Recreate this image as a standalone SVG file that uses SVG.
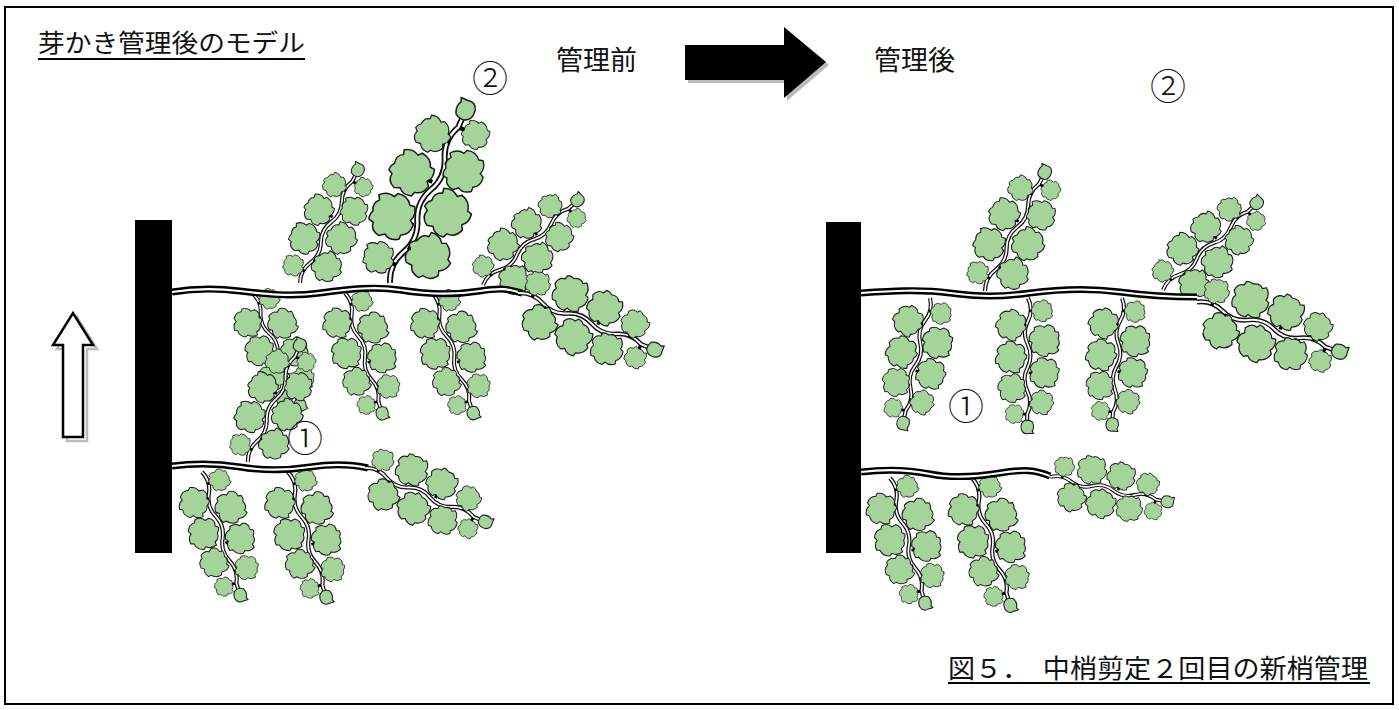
<svg xmlns="http://www.w3.org/2000/svg" xmlns:xlink="http://www.w3.org/1999/xlink" width="1399" height="710" viewBox="0 0 1399 710">
<style>
.txt{font-family:"Noto Sans CJK JP","Liberation Sans",sans-serif;fill:#111}
.num{font-family:"Noto Sans CJK JP","DejaVu Sans",sans-serif;fill:#111;font-weight:300}
.st{fill:none;stroke:#111;stroke-width:3.2}
.sti{fill:none;stroke:#fff;stroke-width:1.3}
.pet{stroke:#000;stroke-width:2.2;fill:none}
.lf{fill:#a4d49a;stroke:#1a1a1a;stroke-width:0.8;stroke-linejoin:round}
.cane{fill:none;stroke:#000;stroke-width:7}
.canei{fill:none;stroke:#fff;stroke-width:2.2}
.post{fill:#000}
.ul{stroke:#000;stroke-width:2}
</style>
<defs>
<path id="leaf" class="lf" d="M0,-10.5 Q4.5,-12 6.5,-8.5 L9,-9.5 Q12,-5.5 10,-1.5 L12,0 Q12,5.5 7.5,7.5 L7.5,10 Q3,12 0,9.5 L-2,11.5 Q-7.5,11 -8.5,6.5 L-11,6 Q-13,1 -10,-1.5 L-11.5,-4.5 Q-10,-9.5 -5.5,-9 L-4.5,-11.5 Q-2,-12 0,-10.5 Z"/>
<path id="bud" class="lf" d="M-4,-4 Q0,-6 3,-4 L5,-5 L5,-1 Q6,3 2,4.5 Q-3,5.5 -5,2 Q-6,-1 -4,-4 Z"/>
<g id="shoot">
<path class="st" d="M0,0 C6,-3 12,-3 18,0 S30,3 36,0 S48,-3 54,0 S66,3 72,0 S84,-3 90,0 L96,0"/>
<path class="sti" d="M0,0 C6,-3 12,-3 18,0 S30,3 36,0 S48,-3 54,0 S66,3 72,0 S84,-3 90,0 L96,0"/>
<path class="pet" d="M10,-1 v-4 M21,1 v4 M33,-1 v-4 M46,1 v4 M58,-1 v-4 M70,1 v4 M81,-1 v-4 M90,1 v4"/>
<use xlink:href="#leaf" transform="translate(10,-11) scale(.7) rotate(-20)"/>
<use xlink:href="#leaf" transform="translate(21,13) scale(.98) rotate(30)"/>
<use xlink:href="#leaf" transform="translate(33,-13) scale(1.02) rotate(-10)"/>
<use xlink:href="#leaf" transform="translate(46,13) scale(1.02) rotate(15)"/>
<use xlink:href="#leaf" transform="translate(58,-13) scale(.98) rotate(5)"/>
<use xlink:href="#leaf" transform="translate(70,12) scale(.92) rotate(-15)"/>
<use xlink:href="#leaf" transform="translate(81,-11) scale(.78) rotate(20)"/>
<use xlink:href="#leaf" transform="translate(90,10) scale(.62)"/>
<use xlink:href="#bud" transform="translate(100,0)"/>
</g>
</defs>

<rect x="5" y="7" width="1388" height="697" fill="#fff" stroke="#000" stroke-width="2"/>

<g id="labels">
<text class="txt" x="38" y="52" font-size="25" textLength="267" lengthAdjust="spacingAndGlyphs">芽かき管理後のモデル</text>
<line class="ul" x1="38" y1="59" x2="305" y2="59"/>
<text class="txt" x="556" y="70" font-size="27">管理前</text>
<text class="txt" x="874" y="70" font-size="27">管理後</text>
<text class="txt" x="948" y="678" font-size="26" textLength="420" lengthAdjust="spacingAndGlyphs">図５．　中梢剪定２回目の新梢管理</text>
<line class="ul" x1="948" y1="683" x2="1370" y2="683"/>
</g>

<g id="arrow-right">
<polygon points="688,48 787,48 787,30 829,65 787,101 787,83 688,83" fill="#bbb"/>
<polygon points="685,45 784,45 784,27 826,62 784,98 784,80 685,80" fill="#000"/>
</g>
<g id="arrow-up">
<polygon points="67,441 67,349 57,349 77,317 97,349 87,349 87,441" fill="none" stroke="#bbb" stroke-width="2.5"/>
<polygon points="63,437 63,345 53,345 73,313 93,345 83,345 83,437" fill="#fff" stroke="#000" stroke-width="2.5"/>
</g>

<g id="before">
<g id="before-shoots">
<use xlink:href="#shoot" transform="translate(252,293) rotate(66.8) scale(1.22)"/>
<use xlink:href="#shoot" transform="translate(345,293) rotate(72.9) scale(1.26)"/>
<use xlink:href="#shoot" transform="translate(432,293) rotate(71.1) scale(1.27)"/>
<use xlink:href="#shoot" transform="translate(248,462) rotate(-66) scale(1.28)"/>
<use xlink:href="#shoot" transform="translate(202,472) rotate(72.8) scale(1.29)"/>
<use xlink:href="#shoot" transform="translate(288,472) rotate(73.1) scale(1.31)"/>
<use xlink:href="#shoot" transform="translate(300,283) rotate(-62.8) scale(1.27)"/>
<use xlink:href="#shoot" transform="translate(390,283) rotate(-66.3) scale(1.89)"/>
<use xlink:href="#shoot" transform="translate(483,285) rotate(-41.8) scale(1.27)"/>
</g>
<g id="before-canes">
<path class="cane" d="M172,292 C190,289 215,288 240,291 S290,297 320,293 S375,286 400,290 S455,295 480,291 S510,290 522,293"/>
<path class="canei" d="M172,292 C190,289 215,288 240,291 S290,297 320,293 S375,286 400,290 S455,295 480,291 S510,290 522,293"/>
<path class="cane" d="M172,466 C195,463 215,463 240,467 S290,470 310,467 S350,464 368,468"/>
<path class="canei" d="M172,466 C195,463 215,463 240,467 S290,470 310,467 S350,464 368,468"/>
</g>
<use xlink:href="#shoot" transform="translate(365,468) rotate(24.2) scale(1.32)"/>
<use xlink:href="#shoot" transform="translate(518,293) rotate(22.6) scale(1.48)"/>
<rect id="before-post" class="post" x="135" y="220" width="37" height="333"/>
<text class="num" x="490" y="92" font-size="36" text-anchor="middle">②</text>
<text class="num" x="305" y="452" font-size="36" text-anchor="middle">①</text>
</g>

<g id="after">
<g id="after-shoots">
<use xlink:href="#shoot" transform="translate(930,298) rotate(102.2) scale(1.28)"/>
<use xlink:href="#shoot" transform="translate(1028,298) rotate(90.4) scale(1.29)"/>
<use xlink:href="#shoot" transform="translate(1122,298) rotate(94.5) scale(1.27)"/>
<use xlink:href="#shoot" transform="translate(985,291) rotate(-63.2) scale(1.33)"/>
<use xlink:href="#shoot" transform="translate(1163,290) rotate(-42.8) scale(1.28)"/>
<use xlink:href="#shoot" transform="translate(890,478) rotate(74.4) scale(1.30)"/>
<use xlink:href="#shoot" transform="translate(972,478) rotate(73.3) scale(1.33)"/>
</g>
<g id="after-canes">
<path class="cane" d="M861,293 C890,291 920,289 950,293 S1000,297 1030,293 S1090,288 1120,292 S1170,297 1197,297"/>
<path class="canei" d="M861,293 C890,291 920,289 950,293 S1000,297 1030,293 S1090,288 1120,292 S1170,297 1197,297"/>
<path class="cane" d="M861,472 C885,469 910,470 930,474 S975,477 1000,473 S1035,470 1050,476"/>
<path class="canei" d="M861,472 C885,469 910,470 930,474 S975,477 1000,473 S1035,470 1050,476"/>
</g>
<use xlink:href="#shoot" transform="translate(1197,302) rotate(19.3) scale(1.51)"/>
<use xlink:href="#shoot" transform="translate(1050,477) rotate(12) scale(1.20)"/>
<rect id="after-post" class="post" x="826" y="222" width="35" height="331"/>
<text class="num" x="1168" y="100" font-size="36" text-anchor="middle">②</text>
<text class="num" x="966" y="420" font-size="36" text-anchor="middle">①</text>
</g>
</svg>
